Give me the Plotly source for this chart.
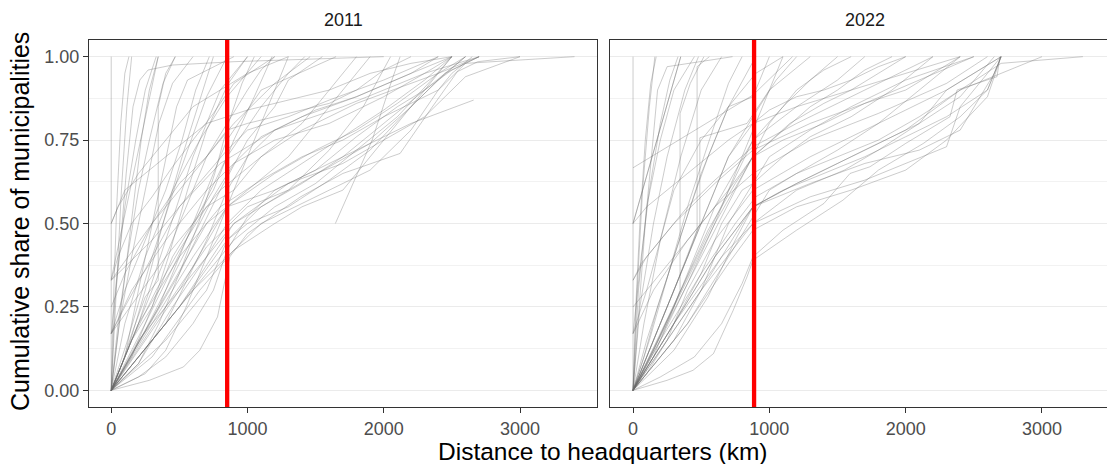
import plotly.graph_objects as go

# ---------------- data ----------------
years = ["2011", "2022"]
median_distance = {"2011": 851, "2022": 888}
x_ticks = [0, 1000, 2000, 3000]
y_ticks = [0, 0.25, 0.5, 0.75, 1.0]
y_ticklabels = ["0.00", "0.25", "0.50", "0.75", "1.00"]

dist_2011 = [
    [0, 0],
    [0, 170, 345],
    [0, 35, 75, 115, 150],
    [0, 15, 40, 70, 100, 130],
    [0, 60, 110, 160, 210, 270, 450, 900, 2000],
    [0, 45, 100, 160, 220, 280, 345],
    [0, 80, 160, 250, 345, 345, 400, 470],
    [0, 50, 120, 200, 280, 380, 470],
    [0, 100, 200, 300, 400, 480, 560, 900],
    [0, 120, 250, 380, 520, 650, 750],
    [0, 150, 300, 420, 560, 700, 860, 1000],
    [0, 100, 250, 400, 520, 620, 720],
    [0, 200, 350, 500, 640, 760, 860, 960, 1050],
    [0, 50, 150, 300, 450, 600, 750, 900, 1200],
    [0, 150, 300, 450, 600, 750, 900, 1050, 1180],
    [0, 250, 400, 550, 700, 850, 1000, 1150, 1300],
    [0, 280, 530, 650, 780, 870, 1000, 1390, 1700, 2120, 2340, 2540, 2690, 3000],
    [0, 200, 400, 600, 750, 850, 1000, 1200, 1500, 1800, 2100, 2350, 2500],
    [0, 300, 600, 900, 1200, 1500, 1800, 2200, 2660],
    [1645, 1915, 2060, 2120],
    [0, 200, 500, 850, 1100, 1400, 1700, 2000, 2300, 2500, 2700],
    [0, 300, 600, 850, 1200, 1500, 1800, 2100, 2400, 2600],
    [0, 150, 400, 700, 900, 1200, 1600, 2000, 2300, 2500],
    [0, 400, 700, 850, 1000, 1300, 1600, 1900, 2200, 2450, 2700],
    [0, 200, 500, 800, 1100, 1400, 1700, 2000, 2400, 2600, 3400],
    [0, 100, 400, 700, 1000, 1300, 1600, 1900, 2200, 2500],
    [0, 300, 600, 850, 1000, 1300, 1600, 2000, 2400],
    [0, 500, 850, 1200, 1500, 1800, 2100, 2300, 2500],
    [0, 200, 600, 900, 1300, 1600, 1850, 2050],
    [0, 350, 700, 1000, 1300, 1500, 1700, 1900],
    [0, 400, 800, 1100, 1400, 1600, 1800],
    [0, 300, 600, 900, 1200, 1460],
    [0, 500, 800, 1000, 1200, 1300, 1550],
    [0, 250, 550, 850, 1100, 1300, 1420],
    [0, 300, 550, 700, 850, 1000, 1100, 1200],
    [0, 400, 700, 850, 1000, 1200, 1500, 1800, 2200, 2400],
    [0, 350, 700, 1000, 1300, 1600, 1900, 2200, 2400, 2600],
    [0, 300, 650, 900, 1200, 1400, 1700, 1900, 2100, 2300, 2600],
    [0, 500, 900, 1300, 1700, 2000, 2300, 2600, 3000],
    [0, 600, 1100, 1500, 1900, 2200, 2400, 2500, 2650],
    [0, 100, 300, 500, 700, 850, 1000, 1300, 1600, 1800, 2000, 2200],
    [0, 50, 200, 400, 600, 800, 1000, 1300],
    [0, 100, 250, 450, 650, 850, 1100],
    [0, 60, 150, 250, 350, 450, 600],
    [0, 30, 100, 180, 250, 330],
    [0, 150, 330, 500, 700, 900, 1100, 1400, 1800, 2400, 2700],
    [0, 200, 450, 700, 850, 1100, 1400, 1700, 2000, 2300, 2500],
    [0, 100, 300, 500, 800, 1200, 1700, 2300, 2700],
    [0, 250, 500, 750, 900, 1100, 1400, 1800, 2200, 2500],
    [0, 120, 300, 500, 700, 850],
    [0, 350, 600, 850, 1100, 1650],
    [0, 200, 400, 600, 800, 1000],
]
share_2011 = [
    [0.0, 1.0],
    [0.333, 0.667, 1.0],
    [0.0, 0.3, 0.6, 0.85, 1.0],
    [0.0, 0.25, 0.55, 0.8, 0.95, 1.0],
    [0.17, 0.4, 0.65, 0.85, 0.93, 0.96, 0.975, 0.985, 1.0],
    [0.0, 0.15, 0.35, 0.55, 0.75, 0.9, 1.0],
    [0.0, 0.08, 0.18, 0.28, 0.33, 0.85, 0.95, 1.0],
    [0.0, 0.2, 0.4, 0.6, 0.75, 0.92, 1.0],
    [0.0, 0.1, 0.3, 0.5, 0.7, 0.85, 0.93, 1.0],
    [0.0, 0.12, 0.3, 0.5, 0.7, 0.87, 1.0],
    [0.0, 0.1, 0.25, 0.4, 0.6, 0.78, 0.92, 1.0],
    [0.17, 0.3, 0.45, 0.6, 0.75, 0.9, 1.0],
    [0.0, 0.08, 0.2, 0.35, 0.5, 0.65, 0.8, 0.92, 1.0],
    [0.33, 0.4, 0.5, 0.58, 0.67, 0.75, 0.83, 0.92, 1.0],
    [0.0, 0.15, 0.25, 0.4, 0.5, 0.6, 0.75, 0.88, 1.0],
    [0.0, 0.05, 0.12, 0.25, 0.4, 0.55, 0.7, 0.85, 1.0],
    [0.0, 0.03, 0.07, 0.12, 0.22, 0.4, 0.47, 0.58, 0.65, 0.71, 0.84, 0.955, 0.985, 1.0],
    [0.0, 0.04, 0.1, 0.2, 0.3, 0.42, 0.52, 0.6, 0.66, 0.72, 0.82, 0.93, 1.0],
    [0.0, 0.15, 0.3, 0.45, 0.55, 0.62, 0.72, 0.8, 0.87],
    [0.5, 0.75, 0.93, 1.0],
    [0.0, 0.1, 0.25, 0.45, 0.55, 0.62, 0.7, 0.8, 0.9, 0.96, 1.0],
    [0.0, 0.2, 0.4, 0.55, 0.65, 0.72, 0.78, 0.86, 0.95, 1.0],
    [0.17, 0.3, 0.45, 0.6, 0.68, 0.75, 0.8, 0.88, 0.95, 1.0],
    [0.0, 0.15, 0.3, 0.45, 0.5, 0.55, 0.63, 0.72, 0.85, 0.95, 1.0],
    [0.0, 0.2, 0.4, 0.55, 0.63, 0.7, 0.75, 0.82, 0.9, 0.98, 1.0],
    [0.5, 0.6, 0.7, 0.8, 0.84, 0.87, 0.9, 0.95, 0.98, 1.0],
    [0.33, 0.45, 0.6, 0.72, 0.78, 0.82, 0.87, 0.93, 1.0],
    [0.0, 0.3, 0.55, 0.6, 0.66, 0.76, 0.85, 0.9, 1.0],
    [0.0, 0.15, 0.35, 0.5, 0.6, 0.72, 0.85, 1.0],
    [0.0, 0.25, 0.5, 0.6, 0.7, 0.8, 0.9, 1.0],
    [0.17, 0.4, 0.6, 0.7, 0.8, 0.9, 1.0],
    [0.33, 0.5, 0.65, 0.8, 0.92, 1.0],
    [0.0, 0.35, 0.6, 0.75, 0.85, 0.93, 1.0],
    [0.0, 0.2, 0.45, 0.7, 0.85, 0.95, 1.0],
    [0.0, 0.3, 0.55, 0.7, 0.8, 0.9, 0.96, 1.0],
    [0.0, 0.2, 0.45, 0.6, 0.7, 0.78, 0.84, 0.88, 0.95, 1.0],
    [0.0, 0.22, 0.43, 0.55, 0.6, 0.67, 0.74, 0.85, 0.93, 1.0],
    [0.0, 0.1, 0.3, 0.42, 0.5, 0.55, 0.6, 0.7, 0.8, 0.9, 1.0],
    [0.0, 0.25, 0.5, 0.62, 0.68, 0.75, 0.82, 0.94, 1.0],
    [0.0, 0.3, 0.5, 0.58, 0.66, 0.78, 0.9, 0.95, 1.0],
    [0.25, 0.35, 0.5, 0.62, 0.7, 0.78, 0.8, 0.83, 0.86, 0.9, 0.96, 1.0],
    [0.5, 0.55, 0.65, 0.75, 0.85, 0.9, 0.95, 1.0],
    [0.0, 0.2, 0.4, 0.6, 0.75, 0.88, 1.0],
    [0.0, 0.2, 0.4, 0.6, 0.8, 0.92, 1.0],
    [0.0, 0.3, 0.55, 0.75, 0.9, 1.0],
    [0.0, 0.15, 0.3, 0.42, 0.55, 0.6, 0.7, 0.78, 0.86, 0.95, 1.0],
    [0.0, 0.08, 0.25, 0.4, 0.5, 0.6, 0.68, 0.76, 0.84, 0.93, 1.0],
    [0.17, 0.25, 0.4, 0.55, 0.68, 0.78, 0.85, 0.95, 1.0],
    [0.0, 0.18, 0.38, 0.58, 0.68, 0.76, 0.82, 0.88, 0.95, 1.0],
    [0.0, 0.15, 0.4, 0.65, 0.88, 1.0],
    [0.0, 0.25, 0.5, 0.75, 0.9, 1.0],
    [0.0, 0.2, 0.45, 0.7, 0.9, 1.0],
]

dist_2022 = [
    [0, 0, 0],
    [0, 350],
    [0, 350],
    [0, 880, 1170],
    [0, 90, 180, 250, 730],
    [0, 150, 300, 345, 345, 420, 520],
    [0, 150, 300, 470, 470, 560],
    [0, 30, 70, 120, 160],
    [0, 20, 50, 90, 130, 170],
    [0, 60, 120, 200, 270, 330],
    [0, 250, 440, 590, 735, 836, 880, 1200, 1540, 1800, 2130, 2400, 2600, 2700],
    [0, 200, 450, 650, 800, 880, 1100, 1400, 1592, 1738, 2000, 2325, 2377, 2670, 2692],
    [0, 100, 250, 400, 550, 700, 880, 1000, 1200, 1400, 1600, 1800, 2000],
    [0, 150, 350, 550, 750, 880, 1100, 1400, 1700, 2000, 2200, 2400],
    [0, 300, 600, 880, 1100, 1400, 1700, 2000, 2300, 2600, 2700],
    [0, 200, 500, 750, 900, 1200, 1500, 1800, 2100, 2400, 2700, 3300],
    [0, 100, 300, 600, 880, 1300, 1700, 2100, 2500],
    [0, 150, 400, 700, 880, 1100, 1300, 1500, 1700, 1900],
    [0, 250, 500, 750, 880, 1000, 1200, 1400, 1600],
    [0, 400, 700, 880, 1000, 1200, 1500, 1800, 2100, 2400],
    [0, 300, 600, 880, 1150, 1400, 1600, 1800, 2000],
    [0, 350, 700, 880, 1100, 1300, 1500],
    [0, 200, 450, 700, 880, 1050, 1200],
    [0, 100, 300, 500, 700, 900],
    [0, 80, 200, 350, 500, 650],
    [0, 50, 150, 250, 380, 480],
    [0, 120, 260, 400, 560, 700, 800],
    [0, 200, 400, 600, 800, 880, 1000, 1100],
    [0, 300, 550, 750, 880, 1200, 1500, 1800, 2100, 2300, 2700],
    [0, 400, 700, 880, 1200, 1600, 2000, 2300, 2600, 2700],
    [0, 500, 880, 1300, 1700, 2000, 2300, 2400, 2700],
    [0, 600, 880, 1300, 1700, 2100, 2400, 2650, 2700],
    [0, 300, 650, 880, 1200, 1550, 1800, 2100, 2400, 2650],
    [0, 100, 400, 700, 880, 1200, 1600, 2000, 2400],
    [0, 200, 600, 880, 1300, 1800, 2300, 2600],
    [0, 150, 350, 600, 880, 1200, 1500, 1700],
    [0, 500, 800, 880, 1200, 1600, 2000, 2400, 3000],
    [0, 100, 200, 300, 500, 700, 900, 1100],
    [0, 200, 400, 490, 490, 836, 1000, 1300],
    [0, 80, 180, 300, 420, 550, 700, 880, 1000],
    [0, 150, 300, 500, 650, 800, 880, 1000, 1300, 1600, 2000, 2500],
    [0, 60, 200, 400, 600, 800, 880, 1200, 1500, 1800, 2200],
    [0, 40, 100, 200, 300, 450],
    [0, 300, 500, 700, 880, 1100, 1300, 1600, 1900, 2200],
    [0, 100, 250, 400, 600, 880, 1300, 1800, 2300, 2700],
]
share_2022 = [
    [0.0, 0.67, 1.0],
    [0.5, 1.0],
    [0.5, 1.0],
    [0.667, 0.885, 1.0],
    [0.0, 0.5, 0.9, 0.97, 1.0],
    [0.0, 0.12, 0.25, 0.3, 0.83, 0.92, 1.0],
    [0.0, 0.15, 0.3, 0.48, 0.97, 1.0],
    [0.0, 0.3, 0.6, 0.85, 1.0],
    [0.0, 0.25, 0.5, 0.75, 0.92, 1.0],
    [0.17, 0.4, 0.6, 0.8, 0.93, 1.0],
    [0.0, 0.03, 0.06, 0.11, 0.24, 0.34, 0.39, 0.48, 0.57, 0.66, 0.74, 0.82, 0.9, 1.0],
    [0.0, 0.04, 0.1, 0.2, 0.32, 0.4, 0.48, 0.56, 0.65, 0.67, 0.74, 0.82, 0.9, 0.94, 1.0],
    [0.0, 0.1, 0.25, 0.4, 0.55, 0.7, 0.8, 0.84, 0.88, 0.9, 0.93, 0.97, 1.0],
    [0.0, 0.12, 0.3, 0.48, 0.62, 0.7, 0.75, 0.8, 0.86, 0.9, 0.95, 1.0],
    [0.0, 0.2, 0.4, 0.55, 0.6, 0.65, 0.7, 0.76, 0.82, 0.9, 1.0],
    [0.0, 0.15, 0.35, 0.5, 0.58, 0.65, 0.7, 0.75, 0.82, 0.9, 0.98, 1.0],
    [0.33, 0.4, 0.5, 0.62, 0.72, 0.8, 0.86, 0.93, 1.0],
    [0.17, 0.3, 0.45, 0.6, 0.7, 0.78, 0.85, 0.9, 0.96, 1.0],
    [0.0, 0.2, 0.4, 0.6, 0.7, 0.8, 0.9, 0.96, 1.0],
    [0.0, 0.2, 0.4, 0.52, 0.6, 0.65, 0.72, 0.8, 0.9, 1.0],
    [0.0, 0.25, 0.5, 0.7, 0.8, 0.86, 0.9, 0.95, 1.0],
    [0.0, 0.3, 0.6, 0.75, 0.85, 0.93, 1.0],
    [0.0, 0.2, 0.45, 0.7, 0.82, 0.93, 1.0],
    [0.0, 0.15, 0.4, 0.65, 0.85, 1.0],
    [0.0, 0.2, 0.45, 0.7, 0.9, 1.0],
    [0.0, 0.25, 0.5, 0.7, 0.9, 1.0],
    [0.0, 0.15, 0.35, 0.55, 0.75, 0.92, 1.0],
    [0.0, 0.15, 0.32, 0.5, 0.7, 0.78, 0.9, 1.0],
    [0.0, 0.12, 0.28, 0.45, 0.55, 0.62, 0.68, 0.74, 0.8, 0.9, 1.0],
    [0.0, 0.2, 0.38, 0.48, 0.55, 0.6, 0.66, 0.75, 0.88, 1.0],
    [0.0, 0.3, 0.5, 0.58, 0.63, 0.68, 0.73, 0.85, 1.0],
    [0.0, 0.4, 0.55, 0.62, 0.68, 0.72, 0.78, 0.95, 1.0],
    [0.0, 0.2, 0.4, 0.5, 0.6, 0.66, 0.72, 0.8, 0.88, 1.0],
    [0.5, 0.55, 0.65, 0.75, 0.8, 0.85, 0.9, 0.95, 1.0],
    [0.25, 0.35, 0.55, 0.65, 0.75, 0.83, 0.92, 1.0],
    [0.0, 0.1, 0.3, 0.55, 0.75, 0.85, 0.93, 1.0],
    [0.0, 0.3, 0.5, 0.55, 0.62, 0.7, 0.78, 0.9, 1.0],
    [0.17, 0.3, 0.45, 0.6, 0.75, 0.85, 0.95, 1.0],
    [0.0, 0.2, 0.4, 0.5, 0.757, 0.8, 0.9, 1.0],
    [0.0, 0.1, 0.25, 0.4, 0.55, 0.7, 0.85, 0.88, 1.0],
    [0.0, 0.1, 0.2, 0.35, 0.5, 0.6, 0.62, 0.7, 0.78, 0.85, 0.93, 1.0],
    [0.33, 0.38, 0.45, 0.55, 0.63, 0.7, 0.73, 0.8, 0.86, 0.92, 1.0],
    [0.0, 0.3, 0.55, 0.75, 0.9, 1.0],
    [0.0, 0.15, 0.3, 0.5, 0.62, 0.7, 0.76, 0.82, 0.9, 1.0],
    [0.0, 0.05, 0.15, 0.3, 0.45, 0.6, 0.7, 0.8, 0.9, 1.0],
]

# ---------------- figure ----------------
FONT = "Liberation Sans, Arial, sans-serif"
LINE_COL = "rgba(105,105,105,0.34)"
fig = go.Figure()

panels = [("x", "y", dist_2011, share_2011), ("x2", "y2", dist_2022, share_2022)]
for xa, ya, dists, shares in panels:
    for xs, ys in zip(dists, shares):
        fig.add_trace(go.Scatter(x=xs, y=ys, mode="lines", xaxis=xa, yaxis=ya,
                                 line=dict(color=LINE_COL, width=1),
                                 showlegend=False, hoverinfo="skip"))

for xa, yr in [("x", "2011"), ("x2", "2022")]:
    d = median_distance[yr]
    ydom = "y domain" if xa == "x" else "y2 domain"
    fig.add_shape(type="line", xref=xa, yref=ydom, x0=d, x1=d, y0=0, y1=1,
                  line=dict(color="#FF0000", width=4.3))

W, H = 1107, 464
ml, mr, mt, mb = 89, 0, 40, 57
pw = W - ml - mr
ph = H - mt - mb
dom1 = [0, (597 - ml) / pw]
dom2 = [(610 - ml) / pw, 1]

axis_common = dict(showgrid=False, zeroline=False, showline=True, linecolor="#333333",
                   linewidth=1.1, ticks="outside", ticklen=5, tickwidth=1.1,
                   tickcolor="#333333", tickfont=dict(family=FONT, size=18, color="#4D4D4D"),
                   tickvals=x_ticks, ticktext=[str(v) for v in x_ticks])
yaxis_common = dict(range=[-0.05, 1.05], zeroline=False, showline=True, linecolor="#333333",
                    linewidth=1.1, tickvals=y_ticks, ticktext=y_ticklabels,
                    showgrid=True, gridcolor="#EBEBEB", gridwidth=1.1,
                    minor=dict(tickvals=[0.125, 0.375, 0.625, 0.875], showgrid=True,
                               gridcolor="#F2F2F2", gridwidth=0.6, ticks=""),
                    tickfont=dict(family=FONT, size=18, color="#4D4D4D"))

fig.update_layout(
    width=W, height=H, autosize=False,
    margin=dict(l=ml, r=mr, t=mt, b=mb),
    paper_bgcolor="white", plot_bgcolor="white",
    font=dict(family=FONT),
    xaxis=dict(domain=dom1, range=[-163, 3565], anchor="y", mirror=True, **axis_common),
    xaxis2=dict(domain=dom2, range=[-169, 3477], anchor="y2", mirror=True, **axis_common),
    yaxis=dict(domain=[0, 1], anchor="x", mirror=True, ticks="outside", ticklen=5,
               tickwidth=1.1, tickcolor="#333333", **yaxis_common),
    yaxis2=dict(domain=[0, 1], anchor="x2", mirror=False, ticks="", showticklabels=False,
                **yaxis_common),
)

annots = [
    dict(text="2011", x=(343 - ml) / pw, y=(H - mb - 20) / ph),
    dict(text="2022", x=(865 - ml) / pw, y=(H - mb - 20) / ph),
]
for a in annots:
    fig.add_annotation(xref="paper", yref="paper", showarrow=False, xanchor="center",
                       yanchor="middle", font=dict(family=FONT, size=18, color="#1A1A1A"), **a)

fig.add_annotation(text="Distance to headquarters (km)", xref="paper", yref="paper",
                   x=(603 - ml) / pw, y=(H - mb - 451) / ph, showarrow=False,
                   xanchor="center", yanchor="middle",
                   font=dict(family=FONT, size=24.5, color="black"))
fig.add_annotation(text="Cumulative share of municipalities", xref="paper", yref="paper",
                   x=(20 - ml) / pw, y=(H - mb - 222) / ph, showarrow=False, textangle=-90,
                   xanchor="center", yanchor="middle",
                   font=dict(family=FONT, size=25, color="black"))

fig.write_html("out.html", config={"displayModeBar": False},
               post_script="document.body.style.margin='0px';document.body.style.overflow='hidden';")
